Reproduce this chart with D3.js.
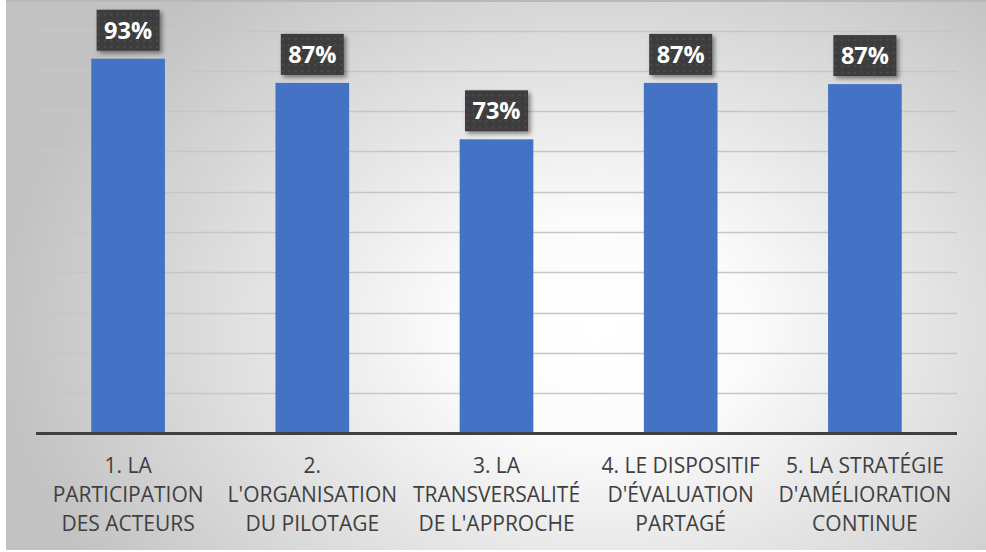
<!DOCTYPE html>
<html><head><meta charset="utf-8">
<script src="https://cdn.jsdelivr.net/npm/d3@7"></script>
<style>html,body{margin:0;padding:0;background:#fff;}svg{display:block;}</style>
</head><body><svg id="c" width="986" height="552"></svg>
<script>
const categories = [
  "1. LA PARTICIPATION DES ACTEURS",
  "2. L'ORGANISATION DU PILOTAGE",
  "3. LA TRANSVERSALITÉ DE L'APPROCHE",
  "4. LE DISPOSITIF D'ÉVALUATION PARTAGÉ",
  "5. LA STRATÉGIE D'AMÉLIORATION CONTINUE"
];
const categoryLines = [
  ["1. LA", "PARTICIPATION", "DES ACTEURS"],
  ["2.", "L'ORGANISATION", "DU PILOTAGE"],
  ["3. LA", "TRANSVERSALITÉ", "DE L'APPROCHE"],
  ["4. LE DISPOSITIF", "D'ÉVALUATION", "PARTAGÉ"],
  ["5. LA STRATÉGIE", "D'AMÉLIORATION", "CONTINUE"]
];
const values = [93, 87, 73, 87, 86.7];
const yTicks = [0, 10, 20, 30, 40, 50, 60, 70, 80, 90, 100];

const svg = d3.select("#c");
const defs = svg.append("defs");
const rg = defs.append("radialGradient").attr("id","bg")
  .attr("gradientUnits","userSpaceOnUse").attr("cx",600).attr("cy",330).attr("r",600)
  .attr("gradientTransform","matrix(1,0,0,0.75,0,82)");
rg.append("stop").attr("offset","0%").attr("stop-color","#ffffff");
rg.append("stop").attr("offset","25%").attr("stop-color","#fbfbfb");
rg.append("stop").attr("offset","100%").attr("stop-color","#c2c2c2");

const pat = defs.append("pattern").attr("id","dots").attr("patternUnits","userSpaceOnUse")
  .attr("width",13).attr("height",13);
pat.append("rect").attr("width",13).attr("height",13).attr("fill","#3c3c3c");
[[3,3],[9.5,3],[3,9.5],[9.5,9.5]].forEach(p =>
  pat.append("circle").attr("cx",p[0]).attr("cy",p[1]).attr("r",1.1).attr("fill","#525252"));

const f = defs.append("filter").attr("id","sh").attr("x","-20%").attr("y","-20%").attr("width","150%").attr("height","160%");
f.append("feDropShadow").attr("dx",2.5).attr("dy",2.5).attr("stdDeviation",2.2).attr("flood-color","#000").attr("flood-opacity",0.45);

// background
svg.append("rect").attr("x",6).attr("y",0).attr("width",980).attr("height",550).attr("fill","url(#bg)");
svg.append("rect").attr("x",6).attr("y",0).attr("width",980).attr("height",2).attr("fill","#b8b8b8");

const x = d3.scaleBand().domain(categories).range([36, 957]).paddingInner(0.6).paddingOuter(0.3);
const y = d3.scaleLinear().domain([0, 100]).range([433.5, 30.5]);

// gridlines
svg.append("g").selectAll("line").data(yTicks.filter(t => t > 0)).join("line")
  .attr("x1",36).attr("x2",957).attr("y1",d=>Math.round(y(d))+0.5).attr("y2",d=>Math.round(y(d))+0.5)
  .attr("stroke","#c6c6c6").attr("stroke-width",1.5);

// bars
svg.append("g").selectAll("rect").data(values).join("rect")
  .attr("x",(d,i)=>x(categories[i])).attr("width",x.bandwidth())
  .attr("y",d=>y(d)).attr("height",d=>y(0)-y(d)).attr("fill","#4472c4");

// baseline
svg.append("line").attr("x1",36).attr("x2",957).attr("y1",y(0)).attr("y2",y(0))
  .attr("stroke","#404040").attr("stroke-width",3);

// value labels
const fmt = v => Math.round(v) + "%";
const lab = svg.append("g").selectAll("g").data(values).join("g")
  .attr("transform",(d,i)=>`translate(${x(categories[i])+x.bandwidth()/2},${y(d)-8})`);
lab.append("rect").attr("x",-31.5).attr("y",-41).attr("width",63).attr("height",41)
  .attr("fill","url(#dots)").attr("filter","url(#sh)");
lab.append("text").attr("x",0).attr("y",-12).attr("text-anchor","middle")
  .attr("font-family","Open Sans, sans-serif").attr("font-weight","bold").attr("font-size",23.5)
  .attr("fill","#ffffff").text(d=>fmt(d));

// category labels
const cl = svg.append("g").selectAll("text").data(categoryLines).join("text")
  .attr("text-anchor","middle").attr("font-family","Open Sans, sans-serif").attr("font-size",21)
  .attr("fill","#3f3f3f")
  .attr("transform",(d,i)=>`translate(${x(categories[i])+x.bandwidth()/2},0)`);
cl.selectAll("tspan").data(d=>d).join("tspan").attr("x",0).attr("y",(d,j)=>473+j*29.2).text(d=>d);
</script></body></html>
